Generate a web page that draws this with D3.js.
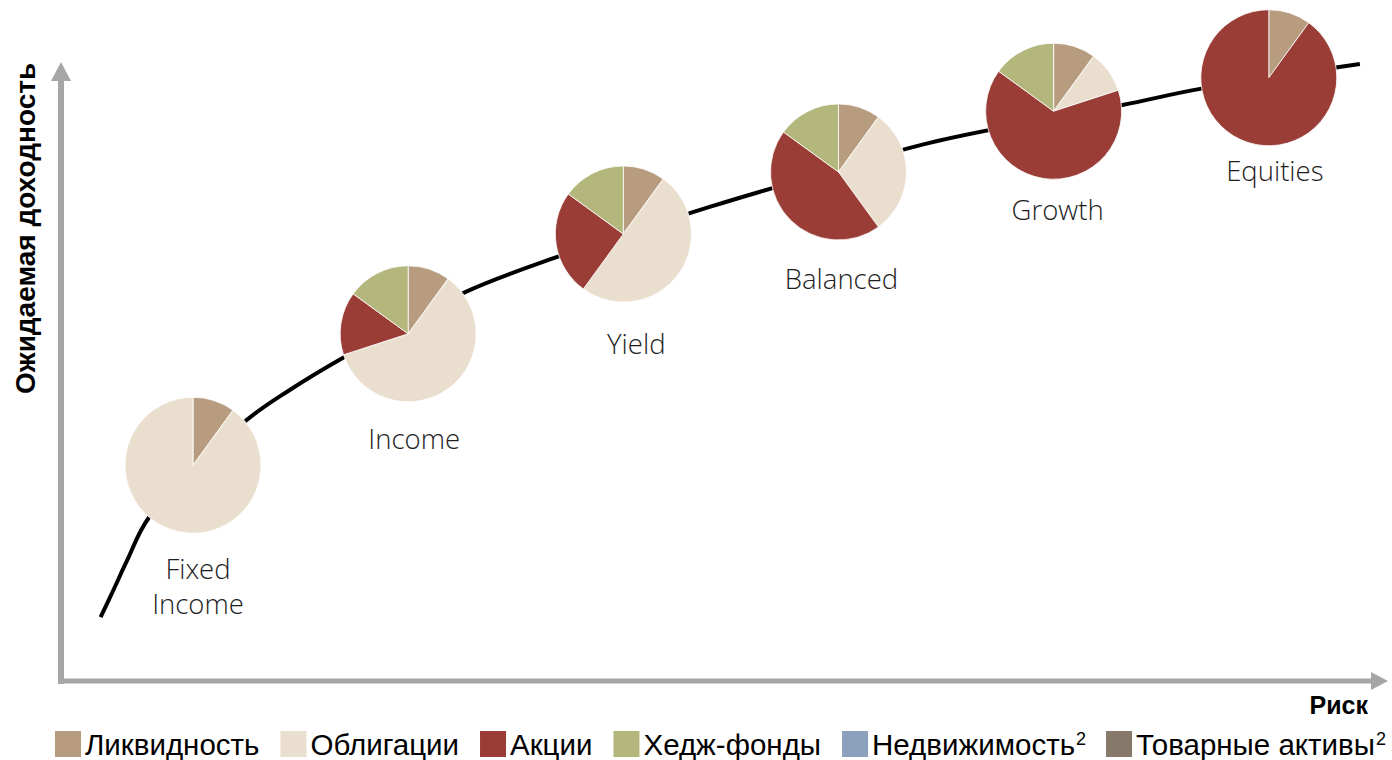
<!DOCTYPE html>
<html>
<head>
<meta charset="utf-8">
<script src="https://cdn.jsdelivr.net/npm/d3@7"></script>
<style>
  body { margin: 0; background: #fff; }
  svg { display: block; }
</style>
</head>
<body>
<div id="chart"></div>
<script>
// Risk / return ladder of model portfolios, each shown as a small pie

const portfolios = ["Fixed\nIncome", "Income", "Yield", "Balanced", "Growth", "Equities"];
const risk = [10, 26.3, 42.6, 58.9, 75.2, 91.5];
const expReturn = [34.8, 56, 72.1, 82.1, 91.9, 97.3];

// allocation per portfolio, %
const liquidity   = [10, 10, 10, 10, 10, 10];
const bonds       = [90, 60, 50, 30, 10, 0];
const equities    = [0, 15, 25, 45, 65, 90];
const hedgeFunds  = [0, 15, 15, 15, 15, 0];
const realEstate  = [0, 0, 0, 0, 0, 0];
const commodities = [0, 0, 0, 0, 0, 0];

const categories = ["Ликвидность", "Облигации", "Акции", "Хедж-фонды", "Недвижимость", "Товарные активы"];
const footnote = [null, null, null, null, "2", "2"];
const colors = ["#b89c80", "#eadfcf", "#993d36", "#b4b77c", "#8aa0bb", "#87796a"];

// efficient frontier curve
const curveRisk   = [3, 4, 5, 6.7, 13.9, 17.3, 21.5, 30.5, 37.6, 49.2, 53.9, 65.8, 80.4, 86.3, 98.4];
const curveReturn = [10.3, 14.8, 19.4, 26.5, 41.8, 46.9, 52.3, 62.6, 68.4, 76.5, 79.5, 86.8, 92.9, 95.5, 99.5];

const width = 1392, height = 760;
const pieRadius = 68;
// label placement relative to each pie centre (layout only)
const labelDx = [5, 6, 13, 3, 4, 6];
const labelDy = [114, 115, 120, 117, 109, 103];

const x = d3.scaleLinear().domain([0, 100]).range([61, 1381]);
const y = d3.scaleLinear().domain([0, 100]).range([681, 61]);
const color = d3.scaleOrdinal().domain(categories).range(colors);

const svg = d3.select("#chart")
  .append("svg")
  .attr("width", width)
  .attr("height", height);

// axes with arrowheads
const axisColor = "#a6a6a6";
svg.append("line")
  .attr("x1", x(0)).attr("x2", x(0))
  .attr("y1", y(0) + 3).attr("y2", y(100) + 16)
  .attr("stroke", axisColor).attr("stroke-width", 6);
svg.append("path")
  .attr("d", `M${x(0)},${y(100) + 1} l-10,19 l20,0 Z`)
  .attr("fill", axisColor);
svg.append("line")
  .attr("x1", x(0) - 3).attr("x2", x(100) - 6)
  .attr("y1", y(0)).attr("y2", y(0))
  .attr("stroke", axisColor).attr("stroke-width", 5);
svg.append("path")
  .attr("d", `M${x(100) + 7},${y(0)} l-17,-9 l0,18 Z`)
  .attr("fill", axisColor);

svg.append("text")
  .attr("transform", `translate(35,394) rotate(-90)`)
  .attr("font-family", "Liberation Sans, Arial, sans-serif")
  .attr("font-size", 28)
  .attr("font-weight", "bold")
  .attr("fill", "#000")
  .text("Ожидаемая доходность");

svg.append("text")
  .attr("x", 1368).attr("y", 714)
  .attr("text-anchor", "end")
  .attr("font-family", "Liberation Sans, Arial, sans-serif")
  .attr("font-size", 25)
  .attr("font-weight", "bold")
  .attr("fill", "#000")
  .text("Риск");

// frontier curve
const curvePts = curveRisk.map((r, i) => [x(r), y(curveReturn[i])]);
svg.append("path")
  .attr("d", d3.line().curve(d3.curveCatmullRom.alpha(0.5))(curvePts))
  .attr("fill", "none")
  .attr("stroke", "#000")
  .attr("stroke-width", 4);

// pies
const pie = d3.pie().sort(null).value(d => d.value);
const arc = d3.arc().innerRadius(0).outerRadius(pieRadius);
const series = [liquidity, bonds, equities, hedgeFunds, realEstate, commodities];

const pieGroups = svg.append("g")
  .selectAll("g")
  .data(portfolios)
  .join("g")
  .attr("transform", (d, i) => `translate(${x(risk[i])},${y(expReturn[i])})`);

pieGroups.selectAll("path")
  .data((d, i) => pie(categories.map((c, k) => ({ cat: c, value: series[k][i] }))).filter(a => a.value > 0))
  .join("path")
  .attr("d", arc)
  .attr("fill", d => color(d.data.cat))
  .attr("stroke", "#fff")
  .attr("stroke-width", 0.8)
  .attr("stroke-linejoin", "round");

pieGroups.append("text")
  .attr("text-anchor", "middle")
  .attr("font-family", "Open Sans, sans-serif")
  .attr("font-weight", 300)
  .attr("font-size", 27.5)
  .attr("fill", "#1e1e1e")
  .each(function(d, i) {
    d3.select(this).selectAll("tspan")
      .data(d.split("\n"))
      .join("tspan")
      .attr("x", labelDx[i])
      .attr("y", (s, j) => labelDy[i] + j * 35)
      .text(s => s);
  });

// legend
const legend = svg.append("g").attr("transform", "translate(55,744)");
let lx = 0;
categories.forEach((c, i) => {
  legend.append("rect")
    .attr("x", lx).attr("y", -13)
    .attr("width", 26).attr("height", 26)
    .attr("fill", colors[i]);
  const t = legend.append("text")
    .attr("x", lx + 30).attr("y", 11)
    .attr("font-family", "Liberation Sans, Arial, sans-serif")
    .attr("font-size", 29.5)
    .attr("fill", "#000")
    .text(c);
  if (footnote[i]) {
    t.append("tspan")
      .attr("font-size", 18)
      .attr("dy", -10)
      .attr("dx", 1)
      .text(footnote[i]);
  }
  lx += 30 + t.node().getComputedTextLength() + 21;
});
</script>
</body>
</html>
